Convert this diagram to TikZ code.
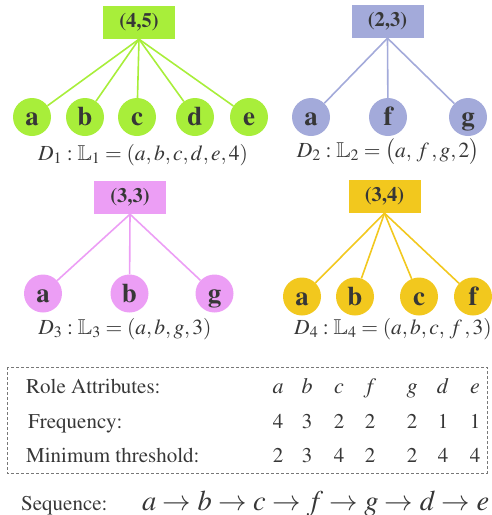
\documentclass[tikz,border=0pt]{standalone}
\usepackage[T1]{fontenc}
\usepackage{amssymb}
\usepackage{mathptmx}
\definecolor{cg}{RGB}{168,238,58}
\definecolor{cb}{RGB}{163,170,218}
\definecolor{cp}{RGB}{236,158,245}
\definecolor{cy}{RGB}{242,200,30}
\definecolor{txtc}{RGB}{55,55,55}
\definecolor{dashc}{RGB}{120,120,120}
\begin{document}
\begin{tikzpicture}[x=1pt,y=-1pt,
  hdr/.style={rectangle, minimum width=72pt, minimum height=33pt, inner sep=0pt,
    font=\fontsize{20.5}{24}\selectfont\bfseries, text=txtc},
  leaf/.style={circle, minimum size=38pt, inner sep=0pt, text height=17pt, text depth=0pt,
    font=\fontsize{27}{28}\selectfont\bfseries, text=txtc},
  lbl/.style={text=txtc, inner sep=0pt, font=\fontsize{21.5}{24}\selectfont},
  link/.style={line width=1.6pt},
  cell/.style={text=txtc, inner sep=0pt, anchor=base, font=\fontsize{21}{24}\selectfont},
  rowlbl/.style={text=txtc, inner sep=0pt, anchor=base west, font=\fontsize{21}{24}\selectfont},
  ]
\useasboundingbox (0,0) rectangle (492,515);
% group 1
\node[hdr, fill=cg] (g1) at (139,22.5) {(4,5)};
\foreach \n/\x in {a/32,b/85,c/137,d/195,e/249}{
  \node[leaf, fill=cg] (g1\n) at (\x,117) {\n};
  \draw[link, cg] (g1.south) -- (g1\n);
}
\node[lbl] (l1) at (143,155) {$D_1:\mathbb{L}_1=(a,b,c,d,e,4)$};
% group 2
\node[hdr, fill=cb] (g2) at (387.5,21.5) {(2,3)};
\foreach \n/\x in {a/311,f/388,g/468}{
  \node[leaf, fill=cb] (g2\n) at (\x,117) {\n};
  \draw[link, cb] (g2.south) -- (g2\n);
}
\node[lbl] (l2) at (388,152) {$D_2:\mathbb{L}_2=\bigl(a,\,f\,,g,2\bigr)$};
% group 3
\node[hdr, fill=cp] (g3) at (130,197.5) {(3,3)};
\foreach \n/\x in {a/43,b/129.5,g/214.5}{
  \node[leaf, fill=cp] (g3\n) at (\x,293.5) {\n};
  \draw[link, cp] (g3.south) -- (g3\n);
}
\node[lbl] (l3) at (125,329) {$D_3:\mathbb{L}_3=(a,b,g,3)$};
% group 4
\node[hdr, fill=cy] (g4) at (384.5,196.5) {(3,4)};
\foreach \n/\x in {a/302,b/355,c/419,f/473}{
  \node[leaf, fill=cy] (g4\n) at (\x,296.5) {\n};
  \draw[link, cy] (g4.south) -- (g4\n);
}
\node[lbl] (l4) at (393,329) {$D_4:\mathbb{L}_4=(a,b,c,\,f\,,3)$};
% table
\draw[dashc, line width=0.8pt, dash pattern=on 3pt off 2pt] (7,367) rectangle (487,473);
\node[rowlbl] (r1) at (26,393) {Role Attributes:};
\node[rowlbl] (r2) at (28,428) {Frequency:};
\node[rowlbl] (r3) at (26,462) {Minimum threshold:};
\foreach \a/\f/\m/\x [count=\i] in {a/4/2/278,b/3/3/307,c/2/4/339,f/2/2/370,g/2/2/412,d/1/4/443,e/1/4/475}{
  \node[cell, font=\fontsize{22}{24}\selectfont] (h\i) at (\x,393) {$\a$};
  \node[cell] (f\i) at (\x,428) {\f};
  \node[cell] (m\i) at (\x,462) {\m};
}
\node[rowlbl] (sq) at (21,510) {Sequence:};
\node[rowlbl, font=\fontsize{28.5}{30}\selectfont] (sqm) at (142,510)
  {$a\rightarrow b\rightarrow c\rightarrow f\rightarrow g\rightarrow d\rightarrow e$};
\end{tikzpicture}
\end{document}
